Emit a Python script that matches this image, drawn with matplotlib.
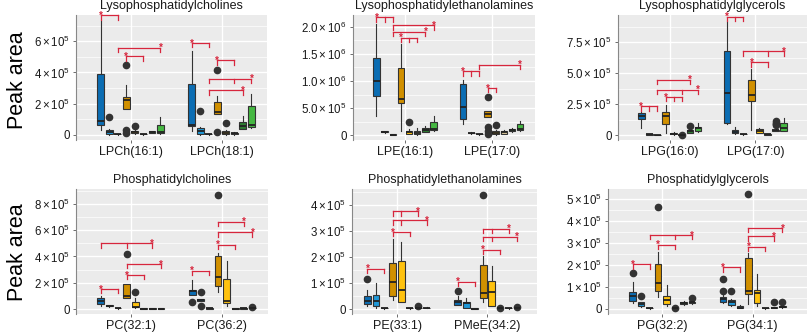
import matplotlib
matplotlib.use('Agg')
import matplotlib.pyplot as plt
import numpy as np

plt.rcParams['font.family'] = ['Liberation Sans', 'DejaVu Sans']
plt.rcParams['mathtext.fontset'] = 'custom'
plt.rcParams['mathtext.rm'] = 'Liberation Sans'
plt.rcParams['mathtext.it'] = 'Liberation Sans'

# box colours (8 groups in each cluster)
colors = ['#0B6DB3', '#1F98D8', '#8CC8E8', '#D19000', '#FFC20E', '#D9C699', '#2E7D32', '#45B842']

# ---------- data: (whislo, q1, median, q3, whishi, fliers) in units of 1e5 ----------
titles = ['Lysophosphatidylcholines', 'Lysophosphatidylethanolamines', 'Lysophosphatidylglycerols',
          'Phosphatidylcholines', 'Phosphatidylethanolamines', 'Phosphatidylglycerols']
xlabels = [['LPCh(16:1)', 'LPCh(18:1)'], ['LPE(16:1)', 'LPE(17:0)'], ['LPG(16:0)', 'LPG(17:0)'],
           ['PC(32:1)', 'PC(36:2)'], ['PE(33:1)', 'PMeE(34:2)'], ['PG(32:2)', 'PG(34:1)']]

lpch_161 = [(0.32, 0.64, 0.88, 3.92, 7.29, []), (0.0, 0.02, 0.15, 0.32, 0.38, [1.13]),
            (0.0, 0.01, 0.02, 0.03, 0.04, []), (1.67, 1.67, 2.25, 2.40, 3.20, [4.5, 0.32, 0.12]),
            (0.02, 0.10, 0.16, 0.22, 0.30, [0.53]), (0.0, 0.01, 0.02, 0.03, 0.04, []),
            (0.10, 0.13, 0.16, 0.20, 0.24, []), (0.05, 0.12, 0.15, 0.64, 1.13, [])]
lpch_181 = [(0.25, 0.53, 0.64, 3.28, 5.36, []), (0.0, 0.02, 0.22, 0.45, 0.50, [1.54]),
            (0.0, 0.01, 0.02, 0.03, 0.04, []), (1.33, 1.33, 1.44, 2.10, 2.46, [4.18, 0.15]),
            (0.0, 0.03, 0.10, 0.26, 0.30, [0.75]), (0.0, 0.03, 0.08, 0.12, 0.15, []),
            (0.39, 0.39, 0.53, 0.81, 1.18, []), (0.40, 0.51, 0.60, 1.82, 2.60, [])]
lpe_161 = [(3.5, 7.3, 10.0, 14.2, 20.6, []), (0.4, 0.5, 0.6, 0.7, 0.8, []),
           (0.05, 0.08, 0.10, 0.12, 0.15, []), (0.7, 6.0, 6.6, 12.4, 16.8, []),
           (0.2, 0.3, 0.6, 0.8, 1.2, [2.4]), (0.1, 0.2, 0.4, 0.8, 1.3, []),
           (0.5, 0.6, 0.9, 1.3, 1.6, []), (0.7, 0.9, 1.2, 2.4, 3.6, [])]
lpe_170 = [(2.0, 2.9, 5.2, 9.4, 10.2, []), (0.3, 0.35, 0.4, 0.45, 0.5, []),
           (0.1, 0.15, 0.2, 0.22, 0.25, []), (3.3, 3.3, 3.9, 4.4, 4.5, [7.1, 1.5, 0.7, 0.3]),
           (0.1, 0.2, 0.4, 0.7, 0.9, [1.8]), (0.2, 0.3, 0.5, 0.7, 1.0, []),
           (0.6, 0.7, 1.0, 1.2, 1.4, []), (0.8, 0.9, 1.2, 2.0, 2.6, [])]
lpg_160 = [(0.54, 1.26, 1.55, 1.80, 1.88, []), (0.02, 0.04, 0.06, 0.08, 0.10, []),
           (0.0, 0.01, 0.02, 0.03, 0.04, []), (0.19, 0.88, 1.50, 1.87, 2.40, []),
           (0.02, 0.08, 0.12, 0.20, 0.25, []), (0.0, 0.01, 0.02, 0.03, 0.04, [0.02]),
           (0.15, 0.20, 0.30, 0.40, 0.45, [0.72]), (0.28, 0.32, 0.60, 0.67, 1.00, [])]
lpg_170 = [(0.90, 0.94, 3.43, 6.83, 9.10, []), (0.10, 0.13, 0.27, 0.40, 0.62, []),
           (0.04, 0.06, 0.08, 0.10, 0.12, []), (0.40, 2.73, 3.20, 4.42, 5.36, []),
           (0.15, 0.20, 0.32, 0.46, 0.60, []), (0.02, 0.04, 0.05, 0.06, 0.08, []),
           (0.30, 0.35, 0.38, 0.42, 0.45, [0.8, 0.9, 1.0, 1.1]), (0.30, 0.32, 0.54, 0.99, 1.34, [])]
pc_321 = [(0.25, 0.38, 0.58, 0.81, 1.00, []), (0.18, 0.20, 0.24, 0.28, 0.30, []),
          (0.03, 0.05, 0.07, 0.08, 0.10, []), (0.81, 0.81, 1.00, 1.90, 1.90, [4.2]),
          (0.10, 0.12, 0.18, 0.50, 0.81, [1.32]), (0.01, 0.02, 0.03, 0.04, 0.05, []),
          (0.01, 0.02, 0.03, 0.04, 0.05, []), (0.01, 0.02, 0.03, 0.04, 0.05, [])]
pc_362 = [(1.07, 1.07, 1.35, 1.47, 2.20, [0.5]), (0.63, 0.63, 0.70, 0.76, 0.76, [1.27, 0.25]),
          (0.0, 0.02, 0.05, 0.08, 0.10, []), (1.32, 1.73, 2.41, 4.06, 4.26, [8.7]),
          (0.25, 0.43, 0.63, 2.28, 3.68, []), (0.01, 0.02, 0.03, 0.04, 0.05, []),
          (0.02, 0.03, 0.05, 0.06, 0.07, []), (0.03, 0.05, 0.08, 0.10, 0.12, [0.12])]
pe_331 = [(0.10, 0.19, 0.32, 0.49, 0.74, [1.15]), (0.06, 0.10, 0.32, 0.54, 0.99, []),
          (0.02, 0.03, 0.04, 0.05, 0.06, []), (0.35, 0.49, 1.03, 1.77, 2.69, []),
          (0.26, 0.26, 0.74, 1.86, 2.59, []), (0.02, 0.03, 0.04, 0.05, 0.06, []),
          (0.03, 0.04, 0.05, 0.06, 0.08, [0.13]), (0.03, 0.04, 0.05, 0.06, 0.07, [])]
pmee_342 = [(0.15, 0.15, 0.28, 0.35, 0.51, [0.68]), (0.06, 0.06, 0.22, 0.28, 0.41, []),
            (0.0, 0.01, 0.02, 0.03, 0.04, []), (0.28, 0.41, 0.62, 1.70, 2.05, [4.38]),
            (0.13, 0.13, 0.64, 1.09, 1.67, []), (0.02, 0.03, 0.04, 0.05, 0.06, [0.06]),
            (0.02, 0.03, 0.04, 0.05, 0.06, []), (0.02, 0.03, 0.04, 0.05, 0.06, [0.07])]
pg_322 = [(0.27, 0.38, 0.58, 0.76, 1.21, [1.62]), (0.10, 0.15, 0.23, 0.30, 0.32, [0.6]),
          (0.01, 0.02, 0.04, 0.05, 0.06, []), (0.53, 0.80, 1.18, 2.05, 2.60, [4.62]),
          (0.15, 0.23, 0.42, 0.58, 1.09, []), (0.0, 0.01, 0.03, 0.04, 0.05, [0.03]),
          (0.20, 0.23, 0.28, 0.33, 0.35, []), (0.24, 0.26, 0.30, 0.33, 0.35, [0.48])]
pg_341 = [(0.28, 0.33, 0.45, 0.53, 0.68, [1.36, 0.83]), (0.15, 0.18, 0.33, 0.42, 0.45, [0.8]),
          (0.02, 0.03, 0.06, 0.15, 0.20, []), (0.23, 0.68, 0.83, 2.30, 2.55, [5.23]),
          (0.13, 0.26, 0.71, 0.86, 1.59, []), (0.01, 0.02, 0.03, 0.04, 0.05, []),
          (0.02, 0.03, 0.05, 0.07, 0.08, [0.3]), (0.05, 0.07, 0.10, 0.15, 0.17, [0.3])]

panel_data = [[lpch_161, lpch_181], [lpe_161, lpe_170], [lpg_160, lpg_170],
              [pc_321, pc_362], [pe_331, pmee_342], [pg_322, pg_341]]

# significance brackets: (cluster, box indices with ticks, height in 1e5, box index of star)
lpch_brk = [(0, [0, 2], 7.67, 0), (0, [2, 7], 5.6, 7), (0, [3, 5], 5.04, 3),
            (1, [0, 2], 5.89, 0), (1, [3, 5], 4.78, 3), (1, [2, 5, 7], 3.6, 7), (1, [2, 6], 2.85, 6)]
lpe_brk = [(0, [0, 1, 2], 21.8, 0), (0, [2, 7], 20.3, 7), (0, [2, 6], 19.1, 6), (0, [3, 4, 5], 18.0, 3),
           (1, [0, 1, 2], 11.8, 0), (1, [2, 7], 13.0, 7), (1, [3, 4], 8.7, 3)]
lpg_brk = [(0, [0, 1, 2], 2.33, 0), (0, [3, 4, 5], 3.08, 3), (0, [2, 5, 7], 3.67, 7), (0, [2, 6], 4.47, 6),
           (1, [0, 1, 2], 9.56, 0), (1, [2, 5, 7], 6.78, 7), (1, [3, 5], 5.89, 3)]
pc_brk = [(0, [0, 3, 6], 5.0, 6), (0, [3, 7], 3.43, 7), (0, [3, 5], 2.59, 3), (0, [0, 2], 1.52, 0),
          (1, [3, 6], 6.65, 6), (1, [3, 7], 5.84, 7), (1, [3, 5], 4.9, 3), (1, [0, 2], 2.92, 0)]
pe_brk = [(0, [3, 4, 6], 3.76, 6), (0, [3, 4, 7], 3.42, 7), (0, [3, 5], 2.97, 3), (0, [0, 2], 1.56, 0),
          (1, [3, 4, 6], 3.1, 6), (1, [3, 4, 7], 2.78, 7), (1, [3, 5], 2.28, 3), (1, [0, 2], 1.06, 0)]
pg_brk = [(0, [2, 5, 7], 3.36, 7), (0, [3, 5], 2.92, 3), (0, [0, 2], 2.02, 0),
          (1, [3, 7], 3.68, 7), (1, [3, 6], 3.3, 6), (1, [3, 5], 2.83, 3), (1, [0, 2], 1.89, 0)]
panel_brackets = [lpch_brk, lpe_brk, lpg_brk, pc_brk, pe_brk, pg_brk]

# y ticks (1e5 units) and their labels
yticks = [[0, 2, 4, 6], [0, 5, 10, 15, 20], [0, 2.5, 5, 7.5], [0, 2, 4, 6, 8], [0, 1, 2, 3, 4], [0, 1, 2, 3, 4, 5]]
ytick_labels = [['0', r'$2\times10^{5}$', r'$4\times10^{5}$', r'$6\times10^{5}$'],
                ['0', r'$5.0\times10^{5}$', r'$1.0\times10^{6}$', r'$1.5\times10^{6}$', r'$2.0\times10^{6}$'],
                ['0', r'$2.5\times10^{5}$', r'$5.0\times10^{5}$', r'$7.5\times10^{5}$'],
                ['0', r'$2\times10^{5}$', r'$4\times10^{5}$', r'$6\times10^{5}$', r'$8\times10^{5}$'],
                ['0', r'$1\times10^{5}$', r'$2\times10^{5}$', r'$3\times10^{5}$', r'$4\times10^{5}$'],
                ['0', r'$1\times10^{5}$', r'$2\times10^{5}$', r'$3\times10^{5}$', r'$4\times10^{5}$', r'$5\times10^{5}$']]
ylims = [(-0.35, 7.7), (-0.9, 22.2), (-0.4, 9.7), (-0.38, 9.14), (-0.19, 4.62), (-0.23, 5.45)]
xlims = [(0.4, 2.5), (0.4, 2.5), (0.4, 2.6), (0.4, 2.5), (0.5, 2.55), (0.4, 2.6)]
# axes boxes in pixels (left, right, top, bottom)
boxes_px = [(76, 267, 15, 140), (353, 535, 15, 140), (618, 807, 15, 140),
            (76, 268, 189, 314), (352, 537, 189, 314), (608, 807, 189, 314)]

W, H = 809, 332
fig = plt.figure(figsize=(W / 100, H / 100), dpi=100)
BG = '#EBEBEB'
RED = '#D7263D'
step = 0.094
bw = 0.075

for p in range(6):
    l, r, t, b = boxes_px[p]
    ax = fig.add_axes([l / W, 1 - b / H, (r - l) / W, (b - t) / H])
    ax.set_facecolor(BG)
    ax.set_xlim(*xlims[p])
    ax.set_ylim(*ylims[p])
    # grid
    yt = yticks[p]
    d = yt[1] - yt[0]
    minors = [v + d / 2 for v in yt]
    for v in minors:
        ax.axhline(v, color='white', lw=0.5, zorder=0)
    for v in yt:
        ax.axhline(v, color='white', lw=1.0, zorder=0)
    for g in (1, 2):
        ax.axvline(g, color='white', lw=1.0, zorder=0)
    for g_i, grp in enumerate(panel_data[p]):
        stats = []
        pos = []
        for i, (lo, q1, med, q3, hi, fl) in enumerate(grp):
            stats.append(dict(whislo=lo, q1=q1, med=med, q3=q3, whishi=hi, fliers=np.array(fl)))
            pos.append(g_i + 1 + (i - 3.5) * step)
        art = ax.bxp(stats, positions=pos, widths=bw, patch_artist=True, showcaps=False,
                     boxprops=dict(edgecolor='#333333', linewidth=0.8),
                     whiskerprops=dict(color='#333333', linewidth=0.8),
                     medianprops=dict(color='#222222', linewidth=1.3),
                     flierprops=dict(marker='o', markerfacecolor='#333333', markeredgecolor='#333333',
                                     markersize=4.5, linestyle='none'),
                     manage_ticks=False, zorder=2)
        for patch, c in zip(art['boxes'], colors):
            patch.set_facecolor(c)
    # brackets
    yr = ylims[p][1] - ylims[p][0]
    tl = 0.035 * yr
    for (g_i, ticks, yv, star) in panel_brackets[p]:
        xs = [g_i + 1 + (i - 3.5) * step for i in ticks]
        ax.plot([xs[0], xs[-1]], [yv, yv], color=RED, lw=0.9, zorder=3, clip_on=False)
        for x in xs:
            ax.plot([x, x], [yv, yv - tl], color=RED, lw=0.9, zorder=3, clip_on=False)
        sx = g_i + 1 + (star - 3.5) * step
        ax.text(sx, yv - 0.004 * yr, '*', color=RED, fontsize=7, fontweight='bold',
                ha='center', va='center', zorder=4, clip_on=False)
    ax.set_yticks(yt)
    ax.set_yticklabels(ytick_labels[p], fontsize=8.3, color='#1a1a1a')
    ax.set_xticks([1, 2])
    ax.set_xticklabels(xlabels[p], fontsize=9, color='#1a1a1a')
    ax.tick_params(axis='both', length=2.5, width=0.6, color='#555555', pad=2)
    for s in ['top', 'right', 'bottom']:
        ax.spines[s].set_visible(False)
    ax.spines['left'].set_color('#888888')
    ax.spines['left'].set_linewidth(0.8)
    ax.set_title(titles[p], fontsize=9, pad=4, color='#1a1a1a')

fig.text(18 / W, 1 - 80 / H, 'Peak area', rotation=90, fontsize=15.5, ha='center', va='center')
fig.text(18 / W, 1 - 252 / H, 'Peak area', rotation=90, fontsize=15.5, ha='center', va='center')

fig.savefig('out.png', dpi=100, facecolor='white')
